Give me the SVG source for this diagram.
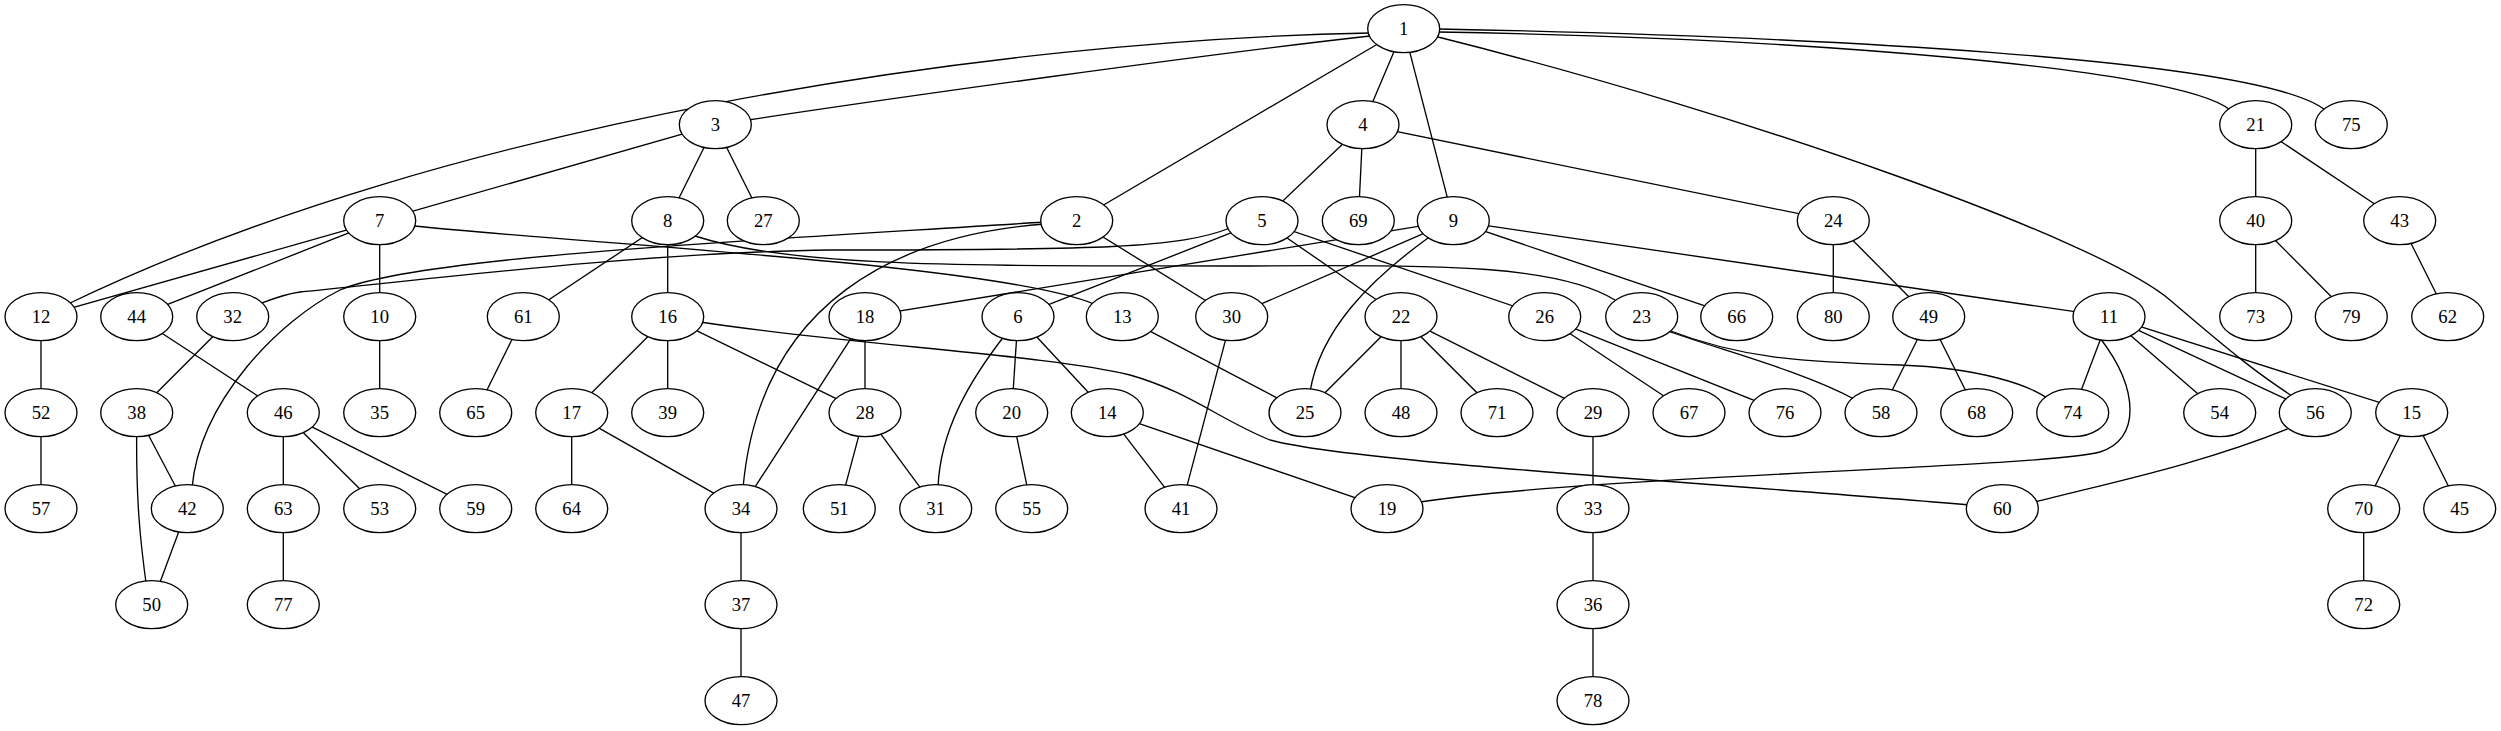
<svg xmlns="http://www.w3.org/2000/svg" width="2501" height="731" viewBox="0 0 2501 731">
<style>
.node ellipse{fill:#fff;stroke:#000;stroke-width:1.33}
.node text{font-family:"Liberation Serif","Times New Roman",serif;font-size:18.67px;text-anchor:middle;fill:#000}
#edges path{fill:none;stroke:#000;stroke-width:1.33}
</style>
<rect width="2501" height="731" fill="#fff"/>
<g id="edges">
<path d="M1403.7,28.7 L1076.7,220.7"/>
<path d="M1403.7,28.7 L1363,124.7"/>
<path d="M1403.7,28.7 L1453.3,220.7"/>
<path d="M715.3,124.7 L379.7,220.7"/>
<path d="M715.3,124.7 L667.7,220.7"/>
<path d="M715.3,124.7 L763.3,220.7"/>
<path d="M1363,124.7 L1262,220.7"/>
<path d="M1363,124.7 L1358.3,220.7"/>
<path d="M1363,124.7 L1833.3,220.7"/>
<path d="M1076.7,220.7 L1231.7,316.7"/>
<path d="M1262,220.7 L1018,316.7"/>
<path d="M1262,220.7 L1401,316.7"/>
<path d="M1262,220.7 L1544.7,316.7"/>
<path d="M1018,316.7 L1011.7,412.7"/>
<path d="M1018,316.7 L1107.3,412.7"/>
<path d="M379.7,220.7 L41,316.7"/>
<path d="M379.7,220.7 L136.7,316.7"/>
<path d="M379.7,220.7 L379.7,316.7"/>
<path d="M667.7,220.7 L523.3,316.7"/>
<path d="M667.7,220.7 L667.7,316.7"/>
<path d="M1453.3,220.7 L865,316.7"/>
<path d="M1453.3,220.7 L1231.7,316.7"/>
<path d="M1453.3,220.7 L1736.7,316.7"/>
<path d="M1453.3,220.7 L2109,316.7"/>
<path d="M379.7,316.7 L379.7,412.7"/>
<path d="M2109,316.7 L2072.7,412.7"/>
<path d="M2109,316.7 L2219.7,412.7"/>
<path d="M2109,316.7 L2315.3,412.7"/>
<path d="M2109,316.7 L2411.7,412.7"/>
<path d="M41,316.7 L41,412.7"/>
<path d="M41,412.7 L41,508.7"/>
<path d="M1122.3,316.7 L1305,412.7"/>
<path d="M1107.3,412.7 L1181,508.7"/>
<path d="M1107.3,412.7 L1387,508.7"/>
<path d="M2411.7,412.7 L2363.7,508.7"/>
<path d="M2411.7,412.7 L2459.7,508.7"/>
<path d="M667.7,316.7 L571.7,412.7"/>
<path d="M667.7,316.7 L667.7,412.7"/>
<path d="M667.7,316.7 L865,412.7"/>
<path d="M571.7,412.7 L571.7,508.7"/>
<path d="M571.7,412.7 L741,508.7"/>
<path d="M865,316.7 L865,412.7"/>
<path d="M865,316.7 L741,508.7"/>
<path d="M1011.7,412.7 L1031.7,508.7"/>
<path d="M2255.7,124.7 L2255.7,220.7"/>
<path d="M2255.7,124.7 L2399.7,220.7"/>
<path d="M1401,316.7 L1305,412.7"/>
<path d="M1401,316.7 L1401,412.7"/>
<path d="M1401,316.7 L1497,412.7"/>
<path d="M1401,316.7 L1593,412.7"/>
<path d="M1833.3,220.7 L1833.3,316.7"/>
<path d="M1833.3,220.7 L1928.7,316.7"/>
<path d="M1544.7,316.7 L1689,412.7"/>
<path d="M1544.7,316.7 L1785,412.7"/>
<path d="M865,412.7 L839.3,508.7"/>
<path d="M865,412.7 L935.7,508.7"/>
<path d="M1593,412.7 L1593,508.7"/>
<path d="M1231.7,316.7 L1181,508.7"/>
<path d="M1593,508.7 L1593,604.7"/>
<path d="M741,508.7 L741,604.7"/>
<path d="M1593,604.7 L1593,700.7"/>
<path d="M741,604.7 L741,700.7"/>
<path d="M136.7,412.7 L187.3,508.7"/>
<path d="M187.3,508.7 L151.7,604.7"/>
<path d="M2255.7,220.7 L2255.7,316.7"/>
<path d="M2255.7,220.7 L2351.3,316.7"/>
<path d="M2399.7,220.7 L2447.7,316.7"/>
<path d="M136.7,316.7 L283.3,412.7"/>
<path d="M283.3,412.7 L283.3,508.7"/>
<path d="M283.3,412.7 L379.7,508.7"/>
<path d="M283.3,412.7 L475.7,508.7"/>
<path d="M1928.7,316.7 L1881,412.7"/>
<path d="M1928.7,316.7 L1976.7,412.7"/>
<path d="M523.3,316.7 L475.7,412.7"/>
<path d="M283.3,508.7 L283.3,604.7"/>
<path d="M2363.7,508.7 L2363.7,604.7"/>
<path d="M232.7,316.7 L136.7,412.7"/>
<path d="M1370,33 C1000,40 450,120 68,304"/>
<path d="M1370,36 C1200,55 900,97 748,120"/>
<path d="M1438,32 C1800,38 2180,68 2230,110"/>
<path d="M1438,29 C1800,36 2260,58 2325,110"/>
<path d="M1438,37 C1750,115 2100,240 2170,300 S2260,375 2295,398"/>
<path d="M1045,224 C900,235 760,300 743,488"/>
<path d="M1045,222 C800,238 420,255 340,290 C280,320 200,400 192,488"/>
<path d="M1230,228 C1180,248 1100,250 830,250 C650,252 420,280 300,292 C285,294 275,298 262,303"/>
<path d="M1005,335 C970,380 940,430 938,488"/>
<path d="M414,226 C600,245 1000,265 1094,304"/>
<path d="M695,236 C800,270 1000,265 1250,266 C1450,264 1560,266 1615,300"/>
<path d="M1428,238 C1370,280 1320,330 1310,392"/>
<path d="M2100,338 C2140,390 2140,440 2100,452 C2040,468 1600,475 1420,502"/>
<path d="M700,322 C850,345 1050,355 1130,375 C1190,392 1220,420 1270,440 C1350,462 1700,482 1970,505"/>
<path d="M1665,330 C1720,350 1800,370 1856,400"/>
<path d="M1668,330 C1740,358 1800,362 1900,365 C1980,368 2030,385 2050,400"/>
<path d="M2290,428 C2200,465 2100,485 2035,502"/>
<path d="M136.7,430 C136,500 140,540 147,590"/>
</g>
<g id="n1" class="node" transform="translate(1403.7,28.7)"><ellipse rx="36" ry="24"/><text y="6.5">1</text></g>
<g id="n2" class="node" transform="translate(1076.7,220.7)"><ellipse rx="36" ry="24"/><text y="6.5">2</text></g>
<g id="n3" class="node" transform="translate(715.3,124.7)"><ellipse rx="36" ry="24"/><text y="6.5">3</text></g>
<g id="n4" class="node" transform="translate(1363,124.7)"><ellipse rx="36" ry="24"/><text y="6.5">4</text></g>
<g id="n5" class="node" transform="translate(1262,220.7)"><ellipse rx="36" ry="24"/><text y="6.5">5</text></g>
<g id="n6" class="node" transform="translate(1018,316.7)"><ellipse rx="36" ry="24"/><text y="6.5">6</text></g>
<g id="n7" class="node" transform="translate(379.7,220.7)"><ellipse rx="36" ry="24"/><text y="6.5">7</text></g>
<g id="n8" class="node" transform="translate(667.7,220.7)"><ellipse rx="36" ry="24"/><text y="6.5">8</text></g>
<g id="n9" class="node" transform="translate(1453.3,220.7)"><ellipse rx="36" ry="24"/><text y="6.5">9</text></g>
<g id="n10" class="node" transform="translate(379.7,316.7)"><ellipse rx="36" ry="24"/><text y="6.5">10</text></g>
<g id="n11" class="node" transform="translate(2109,316.7)"><ellipse rx="36" ry="24"/><text y="6.5">11</text></g>
<g id="n12" class="node" transform="translate(41,316.7)"><ellipse rx="36" ry="24"/><text y="6.5">12</text></g>
<g id="n13" class="node" transform="translate(1122.3,316.7)"><ellipse rx="36" ry="24"/><text y="6.5">13</text></g>
<g id="n14" class="node" transform="translate(1107.3,412.7)"><ellipse rx="36" ry="24"/><text y="6.5">14</text></g>
<g id="n15" class="node" transform="translate(2411.7,412.7)"><ellipse rx="36" ry="24"/><text y="6.5">15</text></g>
<g id="n16" class="node" transform="translate(667.7,316.7)"><ellipse rx="36" ry="24"/><text y="6.5">16</text></g>
<g id="n17" class="node" transform="translate(571.7,412.7)"><ellipse rx="36" ry="24"/><text y="6.5">17</text></g>
<g id="n18" class="node" transform="translate(865,316.7)"><ellipse rx="36" ry="24"/><text y="6.5">18</text></g>
<g id="n19" class="node" transform="translate(1387,508.7)"><ellipse rx="36" ry="24"/><text y="6.5">19</text></g>
<g id="n20" class="node" transform="translate(1011.7,412.7)"><ellipse rx="36" ry="24"/><text y="6.5">20</text></g>
<g id="n21" class="node" transform="translate(2255.7,124.7)"><ellipse rx="36" ry="24"/><text y="6.5">21</text></g>
<g id="n22" class="node" transform="translate(1401,316.7)"><ellipse rx="36" ry="24"/><text y="6.5">22</text></g>
<g id="n23" class="node" transform="translate(1641.7,316.7)"><ellipse rx="36" ry="24"/><text y="6.5">23</text></g>
<g id="n24" class="node" transform="translate(1833.3,220.7)"><ellipse rx="36" ry="24"/><text y="6.5">24</text></g>
<g id="n25" class="node" transform="translate(1305,412.7)"><ellipse rx="36" ry="24"/><text y="6.5">25</text></g>
<g id="n26" class="node" transform="translate(1544.7,316.7)"><ellipse rx="36" ry="24"/><text y="6.5">26</text></g>
<g id="n27" class="node" transform="translate(763.3,220.7)"><ellipse rx="36" ry="24"/><text y="6.5">27</text></g>
<g id="n28" class="node" transform="translate(865,412.7)"><ellipse rx="36" ry="24"/><text y="6.5">28</text></g>
<g id="n29" class="node" transform="translate(1593,412.7)"><ellipse rx="36" ry="24"/><text y="6.5">29</text></g>
<g id="n30" class="node" transform="translate(1231.7,316.7)"><ellipse rx="36" ry="24"/><text y="6.5">30</text></g>
<g id="n31" class="node" transform="translate(935.7,508.7)"><ellipse rx="36" ry="24"/><text y="6.5">31</text></g>
<g id="n32" class="node" transform="translate(232.7,316.7)"><ellipse rx="36" ry="24"/><text y="6.5">32</text></g>
<g id="n33" class="node" transform="translate(1593,508.7)"><ellipse rx="36" ry="24"/><text y="6.5">33</text></g>
<g id="n34" class="node" transform="translate(741,508.7)"><ellipse rx="36" ry="24"/><text y="6.5">34</text></g>
<g id="n35" class="node" transform="translate(379.7,412.7)"><ellipse rx="36" ry="24"/><text y="6.5">35</text></g>
<g id="n36" class="node" transform="translate(1593,604.7)"><ellipse rx="36" ry="24"/><text y="6.5">36</text></g>
<g id="n37" class="node" transform="translate(741,604.7)"><ellipse rx="36" ry="24"/><text y="6.5">37</text></g>
<g id="n38" class="node" transform="translate(136.7,412.7)"><ellipse rx="36" ry="24"/><text y="6.5">38</text></g>
<g id="n39" class="node" transform="translate(667.7,412.7)"><ellipse rx="36" ry="24"/><text y="6.5">39</text></g>
<g id="n40" class="node" transform="translate(2255.7,220.7)"><ellipse rx="36" ry="24"/><text y="6.5">40</text></g>
<g id="n41" class="node" transform="translate(1181,508.7)"><ellipse rx="36" ry="24"/><text y="6.5">41</text></g>
<g id="n42" class="node" transform="translate(187.3,508.7)"><ellipse rx="36" ry="24"/><text y="6.5">42</text></g>
<g id="n43" class="node" transform="translate(2399.7,220.7)"><ellipse rx="36" ry="24"/><text y="6.5">43</text></g>
<g id="n44" class="node" transform="translate(136.7,316.7)"><ellipse rx="36" ry="24"/><text y="6.5">44</text></g>
<g id="n45" class="node" transform="translate(2459.7,508.7)"><ellipse rx="36" ry="24"/><text y="6.5">45</text></g>
<g id="n46" class="node" transform="translate(283.3,412.7)"><ellipse rx="36" ry="24"/><text y="6.5">46</text></g>
<g id="n47" class="node" transform="translate(741,700.7)"><ellipse rx="36" ry="24"/><text y="6.5">47</text></g>
<g id="n48" class="node" transform="translate(1401,412.7)"><ellipse rx="36" ry="24"/><text y="6.5">48</text></g>
<g id="n49" class="node" transform="translate(1928.7,316.7)"><ellipse rx="36" ry="24"/><text y="6.5">49</text></g>
<g id="n50" class="node" transform="translate(151.7,604.7)"><ellipse rx="36" ry="24"/><text y="6.5">50</text></g>
<g id="n51" class="node" transform="translate(839.3,508.7)"><ellipse rx="36" ry="24"/><text y="6.5">51</text></g>
<g id="n52" class="node" transform="translate(41,412.7)"><ellipse rx="36" ry="24"/><text y="6.5">52</text></g>
<g id="n53" class="node" transform="translate(379.7,508.7)"><ellipse rx="36" ry="24"/><text y="6.5">53</text></g>
<g id="n54" class="node" transform="translate(2219.7,412.7)"><ellipse rx="36" ry="24"/><text y="6.5">54</text></g>
<g id="n55" class="node" transform="translate(1031.7,508.7)"><ellipse rx="36" ry="24"/><text y="6.5">55</text></g>
<g id="n56" class="node" transform="translate(2315.3,412.7)"><ellipse rx="36" ry="24"/><text y="6.5">56</text></g>
<g id="n57" class="node" transform="translate(41,508.7)"><ellipse rx="36" ry="24"/><text y="6.5">57</text></g>
<g id="n58" class="node" transform="translate(1881,412.7)"><ellipse rx="36" ry="24"/><text y="6.5">58</text></g>
<g id="n59" class="node" transform="translate(475.7,508.7)"><ellipse rx="36" ry="24"/><text y="6.5">59</text></g>
<g id="n60" class="node" transform="translate(2002.3,508.7)"><ellipse rx="36" ry="24"/><text y="6.5">60</text></g>
<g id="n61" class="node" transform="translate(523.3,316.7)"><ellipse rx="36" ry="24"/><text y="6.5">61</text></g>
<g id="n62" class="node" transform="translate(2447.7,316.7)"><ellipse rx="36" ry="24"/><text y="6.5">62</text></g>
<g id="n63" class="node" transform="translate(283.3,508.7)"><ellipse rx="36" ry="24"/><text y="6.5">63</text></g>
<g id="n64" class="node" transform="translate(571.7,508.7)"><ellipse rx="36" ry="24"/><text y="6.5">64</text></g>
<g id="n65" class="node" transform="translate(475.7,412.7)"><ellipse rx="36" ry="24"/><text y="6.5">65</text></g>
<g id="n66" class="node" transform="translate(1736.7,316.7)"><ellipse rx="36" ry="24"/><text y="6.5">66</text></g>
<g id="n67" class="node" transform="translate(1689,412.7)"><ellipse rx="36" ry="24"/><text y="6.5">67</text></g>
<g id="n68" class="node" transform="translate(1976.7,412.7)"><ellipse rx="36" ry="24"/><text y="6.5">68</text></g>
<g id="n69" class="node" transform="translate(1358.3,220.7)"><ellipse rx="36" ry="24"/><text y="6.5">69</text></g>
<g id="n70" class="node" transform="translate(2363.7,508.7)"><ellipse rx="36" ry="24"/><text y="6.5">70</text></g>
<g id="n71" class="node" transform="translate(1497,412.7)"><ellipse rx="36" ry="24"/><text y="6.5">71</text></g>
<g id="n72" class="node" transform="translate(2363.7,604.7)"><ellipse rx="36" ry="24"/><text y="6.5">72</text></g>
<g id="n73" class="node" transform="translate(2255.7,316.7)"><ellipse rx="36" ry="24"/><text y="6.5">73</text></g>
<g id="n74" class="node" transform="translate(2072.7,412.7)"><ellipse rx="36" ry="24"/><text y="6.5">74</text></g>
<g id="n75" class="node" transform="translate(2351.3,124.7)"><ellipse rx="36" ry="24"/><text y="6.5">75</text></g>
<g id="n76" class="node" transform="translate(1785,412.7)"><ellipse rx="36" ry="24"/><text y="6.5">76</text></g>
<g id="n77" class="node" transform="translate(283.3,604.7)"><ellipse rx="36" ry="24"/><text y="6.5">77</text></g>
<g id="n78" class="node" transform="translate(1593,700.7)"><ellipse rx="36" ry="24"/><text y="6.5">78</text></g>
<g id="n79" class="node" transform="translate(2351.3,316.7)"><ellipse rx="36" ry="24"/><text y="6.5">79</text></g>
<g id="n80" class="node" transform="translate(1833.3,316.7)"><ellipse rx="36" ry="24"/><text y="6.5">80</text></g>
</svg>
